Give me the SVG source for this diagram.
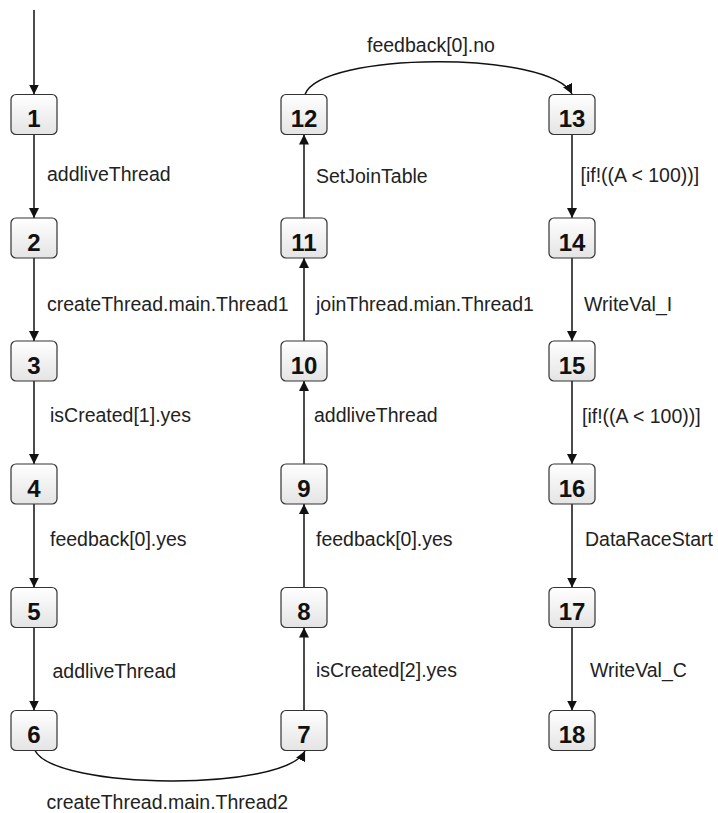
<svg xmlns="http://www.w3.org/2000/svg" width="718" height="813" viewBox="0 0 718 813">
<style>
.box{fill:url(#g);stroke:#333;stroke-width:1.2}
.num{font-family:"Liberation Sans",Arial,sans-serif;font-size:24px;font-weight:bold;fill:#111;text-anchor:middle}
.lbl{font-family:"Liberation Sans",Arial,sans-serif;font-size:19.5px;fill:#222}
.e{fill:none;stroke:#111;stroke-width:1.5;marker-end:url(#a)}
</style>
<defs>
<linearGradient id="g" x1="0" y1="0" x2="0" y2="1">
<stop offset="0" stop-color="#ffffff"/>
<stop offset="1" stop-color="#e4e4e4"/>
</linearGradient>
<marker id="a" markerUnits="userSpaceOnUse" markerWidth="10" markerHeight="10" refX="10" refY="5" orient="auto">
<path d="M0,0 L10,5 L0,10 z" fill="#111"/>
</marker>
</defs>
<g id="connectors">
<line class="e" x1="34" y1="10" x2="34" y2="94.5"/>
<line class="e" x1="34" y1="134.5" x2="34" y2="218"/>
<line class="e" x1="34" y1="258" x2="34" y2="341"/>
<line class="e" x1="34" y1="381" x2="34" y2="464"/>
<line class="e" x1="34" y1="504" x2="34" y2="587.5"/>
<line class="e" x1="34" y1="627.5" x2="34" y2="710.5"/>
<path class="e" d="M35,750.5 C55,790 285,792 305,751"/>
<line class="e" x1="304" y1="710.5" x2="304" y2="627.5"/>
<line class="e" x1="304" y1="587.5" x2="304" y2="504"/>
<line class="e" x1="304" y1="464" x2="304" y2="381"/>
<line class="e" x1="304" y1="341" x2="304" y2="258"/>
<line class="e" x1="304" y1="218" x2="304" y2="134.5"/>
<path class="e" d="M305,94.5 C320,52 550,50 572,94"/>
<line class="e" x1="572" y1="134.5" x2="572" y2="218"/>
<line class="e" x1="572" y1="258" x2="572" y2="341"/>
<line class="e" x1="572" y1="381" x2="572" y2="464"/>
<line class="e" x1="572" y1="504" x2="572" y2="587.5"/>
<line class="e" x1="572" y1="627.5" x2="572" y2="710.5"/>
</g>
<g id="labels">
<text class="lbl" x="47" y="180.5">addliveThread</text>
<text class="lbl" x="47" y="310.5">createThread.main.Thread1</text>
<text class="lbl" x="50" y="422">isCreated[1].yes</text>
<text class="lbl" x="50" y="545.5">feedback[0].yes</text>
<text class="lbl" x="52.5" y="677.5">addliveThread</text>
<text class="lbl" x="46.5" y="809">createThread.main.Thread2</text>
<text class="lbl" x="316" y="183">SetJoinTable</text>
<text class="lbl" x="316" y="310.5">joinThread.mian.Thread1</text>
<text class="lbl" x="314" y="422">addliveThread</text>
<text class="lbl" x="316" y="545.5">feedback[0].yes</text>
<text class="lbl" x="316" y="677">isCreated[2].yes</text>
<text class="lbl" x="367" y="52">feedback[0].no</text>
<text class="lbl" x="580.5" y="182">[if!((A &lt; 100))]</text>
<text class="lbl" x="584" y="310.5">WriteVal_I</text>
<text class="lbl" x="582" y="423">[if!((A &lt; 100))]</text>
<text class="lbl" x="585" y="545.5">DataRaceStart</text>
<text class="lbl" x="590" y="677">WriteVal_C</text>
</g>
<g id="n1"><rect class="box" x="11" y="94.5" width="46" height="40" rx="5"/><text class="num" x="34" y="127">1</text></g>
<g id="n2"><rect class="box" x="11" y="218" width="46" height="40" rx="5"/><text class="num" x="34" y="250.5">2</text></g>
<g id="n3"><rect class="box" x="11" y="341" width="46" height="40" rx="5"/><text class="num" x="34" y="373.5">3</text></g>
<g id="n4"><rect class="box" x="11" y="464" width="46" height="40" rx="5"/><text class="num" x="34" y="496.5">4</text></g>
<g id="n5"><rect class="box" x="11" y="587.5" width="46" height="40" rx="5"/><text class="num" x="34" y="620">5</text></g>
<g id="n6"><rect class="box" x="11" y="710.5" width="46" height="40" rx="5"/><text class="num" x="34" y="743">6</text></g>
<g id="n7"><rect class="box" x="281" y="710.5" width="46" height="40" rx="5"/><text class="num" x="304" y="743">7</text></g>
<g id="n8"><rect class="box" x="281" y="587.5" width="46" height="40" rx="5"/><text class="num" x="304" y="620">8</text></g>
<g id="n9"><rect class="box" x="281" y="464" width="46" height="40" rx="5"/><text class="num" x="304" y="496.5">9</text></g>
<g id="n10"><rect class="box" x="281" y="341" width="46" height="40" rx="5"/><text class="num" x="304" y="373.5">10</text></g>
<g id="n11"><rect class="box" x="281" y="218" width="46" height="40" rx="5"/><text class="num" x="304" y="250.5">11</text></g>
<g id="n12"><rect class="box" x="281" y="94.5" width="46" height="40" rx="5"/><text class="num" x="304" y="127">12</text></g>
<g id="n13"><rect class="box" x="549" y="94.5" width="46" height="40" rx="5"/><text class="num" x="572" y="127">13</text></g>
<g id="n14"><rect class="box" x="549" y="218" width="46" height="40" rx="5"/><text class="num" x="572" y="250.5">14</text></g>
<g id="n15"><rect class="box" x="549" y="341" width="46" height="40" rx="5"/><text class="num" x="572" y="373.5">15</text></g>
<g id="n16"><rect class="box" x="549" y="464" width="46" height="40" rx="5"/><text class="num" x="572" y="496.5">16</text></g>
<g id="n17"><rect class="box" x="549" y="587.5" width="46" height="40" rx="5"/><text class="num" x="572" y="620">17</text></g>
<g id="n18"><rect class="box" x="549" y="710.5" width="46" height="40" rx="5"/><text class="num" x="572" y="743">18</text></g>
</svg>
